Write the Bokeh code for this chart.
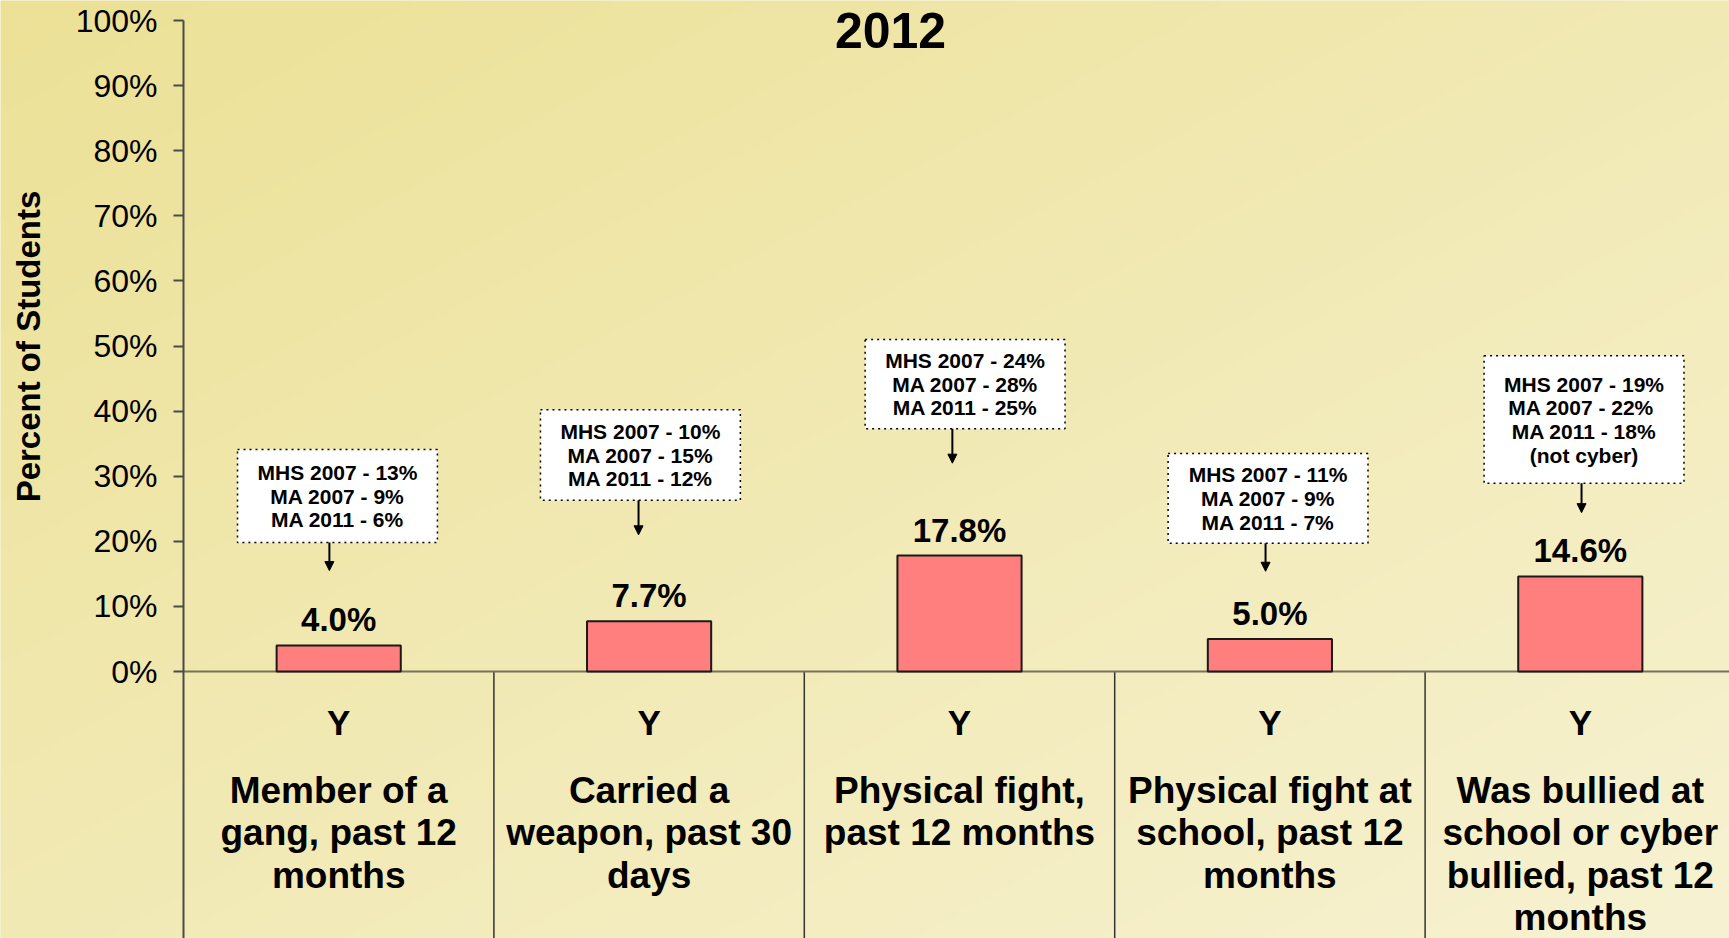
import numpy as np
from bokeh.plotting import figure
from bokeh.models import ColumnDataSource, Range1d, FixedTicker, Arrow, NormalHead
from bokeh.core.properties import value
from bokeh.embed import file_html
from bokeh.resources import INLINE

# ---------------- data ----------------
title_text = "2012"
y_axis_title = "Percent of Students"
group_labels = ["Y", "Y", "Y", "Y", "Y"]
categories = [
    "Member of a\ngang, past 12\nmonths",
    "Carried a\nweapon, past 30\ndays",
    "Physical fight,\npast 12 months",
    "Physical fight at\nschool, past 12\nmonths",
    "Was bullied at\nschool or cyber\nbullied, past 12\nmonths",
]
values = [4.0, 7.7, 17.8, 5.0, 14.6]
callouts = [
    "MHS 2007 - 13%\nMA 2007 - 9%\nMA 2011 - 6%",
    "MHS 2007 - 10%\nMA 2007 - 15%\nMA 2011 - 12%",
    "MHS 2007 - 24%\nMA 2007 - 28%\nMA 2011 - 25%",
    "MHS 2007 - 11%\nMA 2007 - 9%\nMA 2011 - 7%",
    "MHS 2007 - 19%\nMA 2007 -  22%\nMA 2011 - 18%\n(not cyber)",
]
y_ticks = [0, 10, 20, 30, 40, 50, 60, 70, 80, 90, 100]

# ---------------- layout (callout placement: % units vertically, category units horizontally) ----------------
callout_bottom = [19.8, 26.3, 37.3, 19.7, 28.9]
callout_top = [34.1, 40.2, 51.0, 33.5, 48.5]
callout_dx = [-0.004, -0.028, 0.018, -0.006, 0.012]
arrow_tip = [15.5, 21.0, 32.0, 15.4, 24.4]
arrow_dx = [-0.03, -0.034, -0.023, -0.014, 0.004]

FONT = "Liberation Sans"
W, H = 1729, 938
PX_PER_PCT = 6.51          # pixels per percentage point
CAT_PX = 310.4             # pixels per category
AXIS_X = 183               # pixel position of the y axis
BASE_Y = 671               # pixel position of 0%
YMAX = BASE_Y / PX_PER_PCT
YMIN = -(H - BASE_Y) / PX_PER_PCT
XMIN = -AXIS_X / CAT_PX
XMAX = (W - AXIS_X) / CAT_PX

n = len(values)
centers = [i + 0.5 for i in range(n)]

p = figure(width=W, height=H, output_backend="svg", toolbar_location=None,
           x_range=Range1d(XMIN, XMAX), y_range=Range1d(YMIN, YMAX),
           x_axis_location=None, min_border_left=0, min_border_right=0,
           min_border_top=0, min_border_bottom=0)
p.outline_line_color = None
p.xgrid.visible = False
p.ygrid.visible = False

# background gradient (decorative)
c0 = np.array([236, 225, 150], dtype=float)
c1 = np.array([247, 242, 210], dtype=float)
nx, ny = 346, 188
xs = np.linspace(0, W, nx) / W
ys = np.linspace(H, 0, ny) / H
t = 0.5 * (xs[None, :] + ys[:, None])
img = np.empty((ny, nx), dtype=np.uint32)
view = img.view(dtype=np.uint8).reshape((ny, nx, 4))
for k in range(3):
    view[:, :, k] = np.clip(c0[k] + (c1[k] - c0[k]) * t, 0, 255).astype(np.uint8)
view[:, :, 3] = 255
p.image_rgba(image=[img], x=XMIN, y=YMIN, dw=XMAX - XMIN, dh=YMAX - YMIN)
p.border_fill_color = "#EEE4A4"
p.background_fill_color = "#F1E9B4"

# y axis drawn inside the frame at x = 0
ax = p.yaxis[0]
ax.fixed_location = 0
ax.ticker = FixedTicker(ticks=y_ticks)
ax.bounds = (YMIN, 100)
ax.major_label_overrides = {t_: f"{t_}%" for t_ in y_ticks}
ax.major_label_text_font = FONT
ax.major_label_text_font_size = "32px"
ax.major_label_text_color = "black"
ax.major_tick_out = 10
ax.major_tick_in = 0
ax.minor_tick_line_color = None
ax.axis_line_color = "#4a4a4a"
ax.axis_line_width = 2
ax.major_tick_line_color = "#4a4a4a"
ax.major_tick_line_width = 2
ax.major_label_standoff = 16

# dividers below the baseline, and the baseline
p.segment(x0=list(range(1, n)), y0=[YMIN] * (n - 1), x1=list(range(1, n)), y1=[0] * (n - 1),
          line_color="#333333", line_width=1.5)
p.segment(x0=[0], y0=[0], x1=[XMAX], y1=[0], line_color="#77735a", line_width=2)

# bars
src = ColumnDataSource(dict(x=centers, top=values,
                            lab=[f"{v:.1f}%" for v in values],
                            ly=[v + 25.5 / PX_PER_PCT for v in values]))
p.vbar(x="x", top="top", bottom=0, width=0.4, source=src,
       fill_color="#FF7F7F", line_color="#1a1a1a", line_width=2)
p.text(x="x", y="ly", text="lab", source=src, text_font=value(FONT), text_font_style="bold",
       text_font_size="33px", text_align="center", text_baseline="middle", text_color="black")

# callouts
bx = [c + d for c, d in zip(centers, callout_dx)]
cs = ColumnDataSource(dict(
    left=[c - 0.322 for c in bx], right=[c + 0.322 for c in bx],
    bottom=callout_bottom, top=callout_top,
    mid=[(b + t_) / 2 for b, t_ in zip(callout_bottom, callout_top)],
    x=bx, txt=callouts,
    ax=[c + d for c, d in zip(centers, arrow_dx)], tip=arrow_tip))
p.quad(left="left", right="right", bottom="bottom", top="top", source=cs,
       fill_color="white", line_color="black", line_width=1.5, line_dash="dotted")
p.text(x="x", y="mid", text="txt", source=cs, text_font=value(FONT), text_font_style="bold",
       text_font_size="21px", text_align="center", text_baseline="middle",
       text_line_height=1.03, text_color="black")
p.add_layout(Arrow(end=NormalHead(size=9, fill_color="black", line_color="black", line_width=1),
                   x_start="ax", y_start="bottom", x_end="ax", y_end="tip",
                   line_color="black", line_width=2, source=cs))

# category labels
ls = ColumnDataSource(dict(x=centers, g=group_labels, c=categories,
                           gy=[-(722 - BASE_Y) / PX_PER_PCT] * n,
                           cy=[-(769 - BASE_Y) / PX_PER_PCT] * n))
p.text(x="x", y="gy", text="g", source=ls, text_font=value(FONT), text_font_style="bold",
       text_font_size="35px", text_align="center", text_baseline="middle", text_color="black")
p.text(x="x", y="cy", text="c", source=ls, text_font=value(FONT), text_font_style="bold",
       text_font_size="37px", text_align="center", text_baseline="top",
       text_line_height=1.04, text_color="black")

# title and y-axis title
p.text(x=[(890 - AXIS_X) / CAT_PX], y=[(BASE_Y - 30) / PX_PER_PCT], text=[title_text],
       text_font=value(FONT), text_font_style="bold", text_font_size="50px",
       text_align="center", text_baseline="middle", text_color="black")
p.text(x=[(28 - AXIS_X) / CAT_PX], y=[(BASE_Y - 346) / PX_PER_PCT], text=[y_axis_title],
       angle=np.pi / 2, text_font=value(FONT), text_font_style="bold", text_font_size="33px",
       text_align="center", text_baseline="middle", text_color="black")

html = file_html(p, INLINE)
open("out.html", "w").write(html)
